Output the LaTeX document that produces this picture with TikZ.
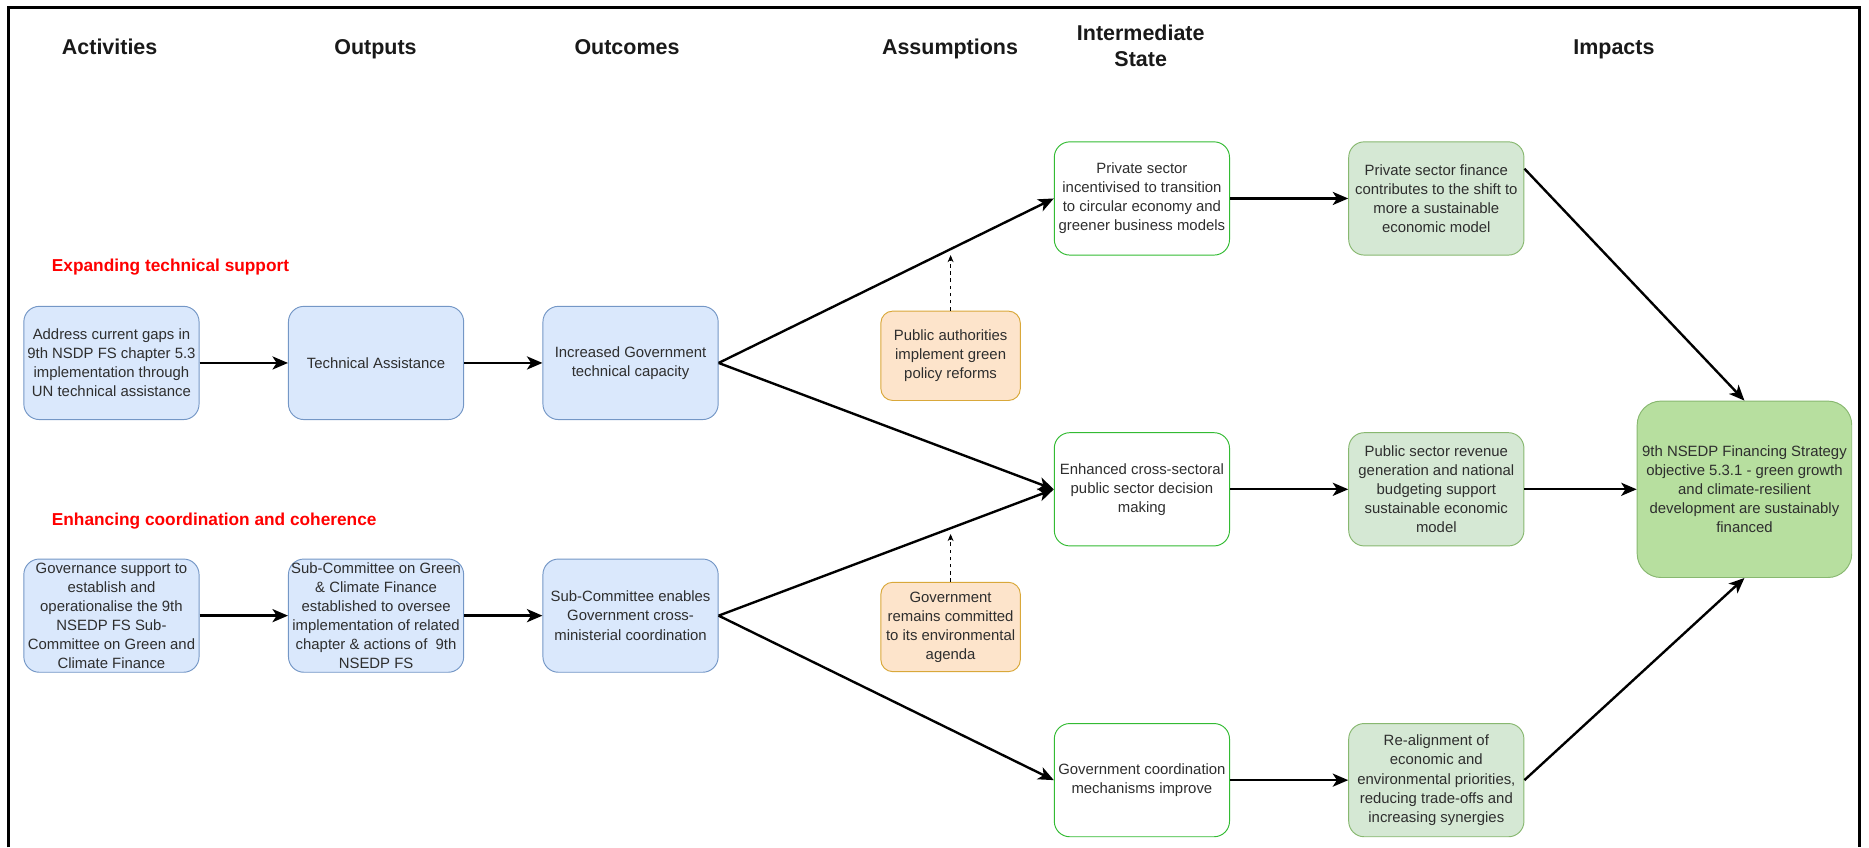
\documentclass[tikz,border=0pt]{standalone}
\usepackage{fontspec}
\setmainfont{Liberation Sans}
\usepackage{xcolor}
\usetikzlibrary{arrows.meta}

\definecolor{bluefill}{HTML}{DAE8FC}
\definecolor{blueline}{HTML}{7497C6}
\definecolor{orgfill}{HTML}{FDE4CB}
\definecolor{orgline}{HTML}{D9A83A}
\definecolor{itmline}{HTML}{33BB33}
\definecolor{grnfill}{HTML}{D5E8D4}
\definecolor{grnline}{HTML}{88B870}
\definecolor{finfill}{HTML}{B7DF9F}
\definecolor{boxtext}{HTML}{2E2E2E}

\begin{document}
\begin{tikzpicture}[x=1pt,y=-1pt,
    box/.style={rounded corners=13pt,minimum width=147pt,minimum height=95pt,inner sep=0pt,
      align=center,text=boxtext,line width=0.8pt,font=\fontsize{12.5}{16}\selectfont},
    blu/.style={box,draw=blueline,fill=bluefill},
    org/.style={box,draw=orgline,fill=orgfill,minimum width=117pt,minimum height=75pt,rounded corners=10pt},
    itm/.style={box,draw=itmline,fill=white},
    grn/.style={box,draw=grnline,fill=grnfill},
    hdr/.style={anchor=base,align=center,text=black!90,font=\bfseries\fontsize{18}{22}\selectfont},
    lbl/.style={anchor=west,text=red,font=\bfseries\fontsize{14.5}{17}\selectfont},
    arr/.style={-{Stealth[length=13pt,width=11pt,inset=3.5pt]},line width=2pt},
    dsh/.style={-{Stealth[length=6pt,width=5pt]},dash pattern=on 3pt off 3pt,line width=0.7pt}]
  \useasboundingbox (0,0) rectangle (1568,711);
  \draw[line width=2.5pt] (7,711) -- (7,6) -- (1560,6) -- (1560,711);

  % column headings
  \node[hdr] (hact) at (92,45.5)   {Activities};
  \node[hdr] (hout) at (315,45.5)  {Outputs};
  \node[hdr] (hcom) at (526,45.5)  {Outcomes};
  \node[hdr] (hass) at (797,45.5)  {Assumptions};
  \node[hdr] (hint) at (957,56)    {Intermediate\\State};
  \node[hdr] (himp) at (1354,45.5) {Impacts};

  \node[lbl] (l1) at (40,224) {Expanding technical support};
  \node[lbl] (l2) at (40,437) {Enhancing coordination and coherence};

  % first row
  \node[blu] (a1) at (93.5,304.5) {Address current gaps in\\9th NSDP FS chapter 5.3\\implementation through\\UN technical assistance};
  \node[blu] (o1) at (315.5,304.5) {Technical Assistance};
  \node[blu] (c1) at (529,304.5) {Increased Government\\technical capacity};
  % second row
  \node[blu] (a2) at (93.5,516.5) {Governance support to\\establish and\\operationalise the 9th\\NSEDP FS Sub-\\Committee on Green and\\Climate Finance};
  \node[blu] (o2) at (315.5,516.5) {Sub-Committee on Green\\\& Climate Finance\\established to oversee\\implementation of related\\chapter \& actions of \ 9th\\NSEDP FS};
  \node[blu] (c2) at (529,516.5) {Sub-Committee enables\\Government cross-\\ministerial coordination};

  \node[org] (as1) at (797.5,298.5) {Public authorities\\implement green\\policy reforms};
  \node[org] (as2) at (797.5,526) {Government\\remains committed\\to its environmental\\agenda};

  \node[itm] (i1) at (958,166.5) {Private sector\\incentivised to transition\\to circular economy and\\greener business models};
  \node[itm] (i2) at (958,410.5) {Enhanced cross-sectoral\\public sector decision\\making};
  \node[itm] (i3) at (958,654.5) {Government coordination\\mechanisms improve};

  \node[grn] (p1) at (1205,166.5) {Private sector finance\\contributes to the shift to\\more a sustainable\\economic model};
  \node[grn] (p2) at (1205,410.5) {Public sector revenue\\generation and national\\budgeting support\\sustainable economic\\model};
  \node[grn] (p3) at (1205,654.5) {Re-alignment of\\economic and\\environmental priorities,\\reducing trade-offs and\\increasing synergies};

  \node[grn,fill=finfill,minimum width=180pt,minimum height=148pt,rounded corners=20pt] (fin) at (1463.5,410.5)
    {9th NSEDP Financing Strategy\\objective 5.3.1 - green growth\\and climate-resilient\\development are sustainably\\financed};

  \foreach \a/\b in {a1/o1,o1/c1,a2/o2,o2/c2,c1/i1,c1/i2,c2/i2,c2/i3,i1/p1,i2/p2,i3/p3}
    \draw[arr] (\a.east) -- (\b.west);
  \draw[arr] ([yshift=25pt]p1.east) -- (fin.north);
  \draw[arr] (p2.east) -- (fin.west);
  \draw[arr] (p3.east) -- (fin.south);

  \coordinate (t1) at (797.5,214);
  \coordinate (t2) at (797.5,448);
  \draw[dsh] (as1.north) -- (t1);
  \draw[dsh] (as2.north) -- (t2);
\end{tikzpicture}
\end{document}
